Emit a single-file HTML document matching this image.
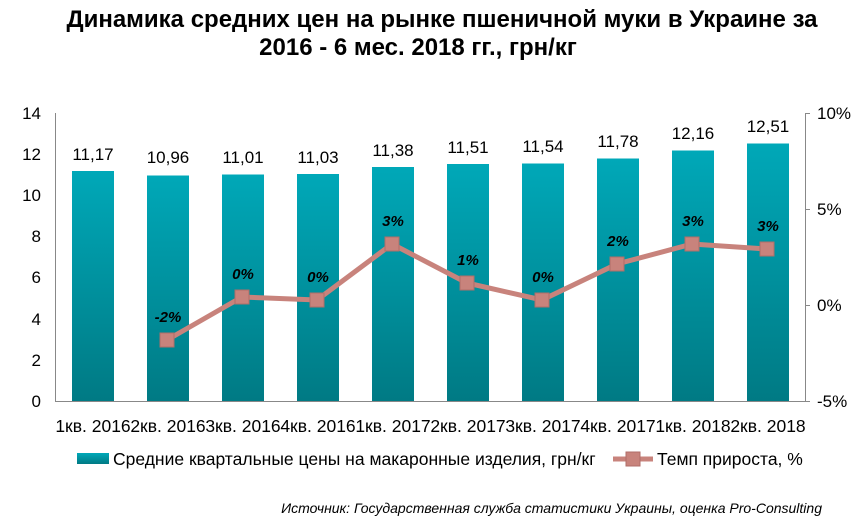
<!DOCTYPE html>
<html><head><meta charset="utf-8"><style>
body{margin:0;width:866px;height:526px;background:#fff;overflow:hidden;font-family:"Liberation Sans",sans-serif}
</style></head><body>
<svg width="866" height="526" xmlns="http://www.w3.org/2000/svg" font-family="Liberation Sans, sans-serif">
<defs>
<linearGradient id="g" x1="0" y1="0" x2="0" y2="1"><stop offset="0" stop-color="#00a8b8"/><stop offset="1" stop-color="#007a84"/></linearGradient>
</defs>
<text x="442" y="27" text-anchor="middle" font-size="24" font-weight="bold">Динамика средних цен на рынке пшеничной муки в Украине за</text>
<text x="418" y="55" text-anchor="middle" font-size="24" font-weight="bold">2016 - 6 мес. 2018 гг., грн/кг</text>
<g stroke="#888" stroke-width="1">
<line x1="55.5" y1="113" x2="55.5" y2="401"/>
<line x1="55" y1="401.5" x2="805" y2="401.5"/>
<line x1="805.5" y1="113" x2="805.5" y2="401"/>
<line x1="805" y1="113.5" x2="810" y2="113.5"/>
<line x1="805" y1="209.5" x2="810" y2="209.5"/>
<line x1="805" y1="305.5" x2="810" y2="305.5"/>
<line x1="805" y1="401.5" x2="810" y2="401.5"/>
</g>
<g font-size="17" text-anchor="end">
<text x="41" y="119">14</text><text x="41" y="160">12</text><text x="41" y="201">10</text><text x="41" y="242">8</text><text x="41" y="283">6</text><text x="41" y="325">4</text><text x="41" y="366">2</text><text x="41" y="407">0</text>
</g>
<g font-size="17">
<text x="817" y="119">10%</text><text x="817" y="215">5%</text><text x="817" y="311">0%</text><text x="817" y="407">-5%</text>
</g>
<g fill="url(#g)">
<rect x="72" y="171" width="42" height="230"/>
<rect x="147" y="175.5" width="42" height="225.5"/>
<rect x="222" y="174.5" width="42" height="226.5"/>
<rect x="297" y="174" width="42" height="227"/>
<rect x="372" y="167" width="42" height="234"/>
<rect x="447" y="164" width="42" height="237"/>
<rect x="522" y="163.5" width="42" height="237.5"/>
<rect x="597" y="158.5" width="42" height="242.5"/>
<rect x="672" y="150.5" width="42" height="250.5"/>
<rect x="747" y="143.5" width="42" height="257.5"/>
</g>
<g font-size="17" text-anchor="middle">
<text x="93" y="160">11,17</text><text x="168" y="163">10,96</text><text x="243" y="163">11,01</text><text x="318" y="163">11,03</text><text x="393" y="156">11,38</text><text x="468" y="153">11,51</text><text x="543" y="152">11,54</text><text x="618" y="147">11,78</text><text x="693" y="139">12,16</text><text x="768" y="132">12,51</text>
</g>
<polyline points="167,340 242,297 317,300 392,244 467,283 542,300 617,264 692,244 767,249" fill="none" stroke="#c8837c" stroke-width="5"/>
<g fill="#c8837c" stroke="#b06e68" stroke-width="1">
<rect x="160" y="333" width="14" height="14"/><rect x="235" y="290" width="14" height="14"/><rect x="310" y="293" width="14" height="14"/><rect x="385" y="237" width="14" height="14"/><rect x="460" y="276" width="14" height="14"/><rect x="535" y="293" width="14" height="14"/><rect x="610" y="257" width="14" height="14"/><rect x="685" y="237" width="14" height="14"/><rect x="760" y="242" width="14" height="14"/>
</g>
<g font-size="15" font-weight="bold" font-style="italic" text-anchor="middle">
<text x="168" y="322">-2%</text><text x="243" y="279">0%</text><text x="318" y="282">0%</text><text x="393" y="226">3%</text><text x="468" y="265">1%</text><text x="543" y="282">0%</text><text x="618" y="246">2%</text><text x="693" y="226">3%</text><text x="768" y="231">3%</text>
</g>
<g font-size="17.5" text-anchor="middle">
<text x="93" y="432">1кв. 2016</text><text x="168" y="432">2кв. 2016</text><text x="243" y="432">3кв. 2016</text><text x="318" y="432">4кв. 2016</text><text x="393" y="432">1кв. 2017</text><text x="468" y="432">2кв. 2017</text><text x="543" y="432">3кв. 2017</text><text x="618" y="432">4кв. 2017</text><text x="693" y="432">1кв. 2018</text><text x="768" y="432">2кв. 2018</text>
</g>
<rect x="77" y="453" width="32" height="11" fill="url(#g)"/>
<text x="113" y="465" font-size="17.5">Средние квартальные цены на макаронные изделия, грн/кг</text>
<line x1="613" y1="459" x2="653" y2="459" stroke="#c8837c" stroke-width="5"/>
<rect x="626" y="452" width="14" height="14" fill="#c8837c" stroke="#b06e68"/>
<text x="657" y="465" font-size="17.5">Темп прироста, %</text>
<text x="822" y="513" font-size="14" font-style="italic" text-anchor="end">Источник: Государственная служба статистики Украины, оценка Pro-Consulting</text>
</svg>
</body></html>
